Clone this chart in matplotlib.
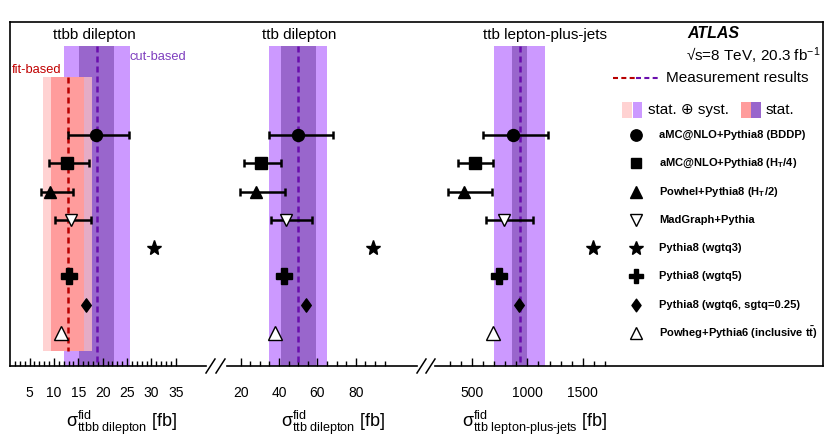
import numpy as np
import matplotlib.pyplot as plt
from matplotlib.lines import Line2D
from matplotlib.patches import Rectangle
from matplotlib.path import Path

plt.rcParams['font.family'] = ['Liberation Sans', 'DejaVu Sans']
plt.rcParams['mathtext.fontset'] = 'custom'
plt.rcParams['mathtext.rm'] = 'Liberation Sans'
plt.rcParams['mathtext.it'] = 'Liberation Sans:italic'
plt.rcParams['mathtext.bf'] = 'Liberation Sans:bold'

# generator predictions, same order in every panel (top to bottom)
generators = ["aMC@NLO+Pythia8 (BDDP)",
              r"aMC@NLO+Pythia8 (H$_{\mathbf{T}}$/4)",
              r"Powhel+Pythia8 (H$_{\mathbf{T}}$/2)",
              "MadGraph+Pythia",
              "Pythia8 (wgtq3)",
              "Pythia8 (wgtq5)",
              "Pythia8 (wgtq6, sgtq=0.25)",
              r"Powheg+Pythia6 (inclusive t$\mathbf{\bar{t}}$)"]
diamond = Path([(0, 1), (0.72, 0), (0, -1), (-0.72, 0), (0, 1)],
               [Path.MOVETO, Path.LINETO, Path.LINETO, Path.LINETO, Path.CLOSEPOLY])
markers = ['o', 's', '^', 'v', '*', 'P', diamond, '^']
msizes = [8.6, 8.2, 8.4, 9.0, 11.0, 11.0, 9.6, 9.6]
filled = [True, True, True, False, True, True, True, False]

# ttbb dilepton [fb]
ttbb_pred = [18.6, 12.6, 9.2, 13.5, 30.6, 13.1, 16.5, 11.5]
ttbb_lo = [12.8, 9.0, 7.4, 10.2]
ttbb_hi = [25.5, 17.2, 13.9, 17.6]
ttbb_cut = (18.8, 3.6, 6.8)   # value, stat, stat+syst
ttbb_fit = (12.8, 3.4, 5.0)

# ttb dilepton [fb]
ttb_dil_pred = [49.7, 30.6, 27.8, 43.6, 88.8, 42.7, 53.9, 37.9]
ttb_dil_lo = [34.7, 21.7, 19.6, 35.8]
ttb_dil_hi = [68.0, 40.8, 43.1, 57.0]
ttb_dil_meas = (50.0, 9.1, 15.0)

# ttb lepton-plus-jets [fb]
ttb_lj_pred = [873, 527, 430, 791, 1590, 743, 924, 692]
ttb_lj_lo = [602, 376, 286, 623]
ttb_lj_hi = [1189, 692, 678, 1054]
ttb_lj_meas = (930, 65, 228)

W, H = 827, 436
fig = plt.figure(figsize=(W / 100, H / 100), dpi=100)


def box(x0, x1, y0=22, y1=366):
    return [x0 / W, 1 - y1 / H, (x1 - x0) / W, (y1 - y0) / H]


def ftext(px, py, s, **kw):
    fig.text(px / W, 1 - py / H, s, **kw)


ROW_TOP, ROW_BOT = -3.994, 8.165
rows = np.arange(len(generators))

c_purple_out, c_purple_in = '#cc99ff', '#9966cc'
c_red_out, c_red_in = '#ffc4c4', '#ff9c9c'
c_purple_line, c_red_line = '#6a0dad', '#b80000'
dash = (0, (2.4, 1.6))

panels = [
    dict(rect=(10, 206), xlim=(1.0, 41.2), pred=ttbb_pred, lo=ttbb_lo, hi=ttbb_hi,
         meas=ttbb_cut, major=[5, 10, 15, 20, 25, 30, 35], minor=np.arange(2, 36, 1),
         title="ttbb dilepton", tx=94.5, lx=121.5,
         xlabel=r"$\mathrm{\sigma}^{\text{fid}}_{\text{ttbb dilepton}}$ [fb]"),
    dict(rect=(227, 417), xlim=(12.83, 111.95), pred=ttb_dil_pred, lo=ttb_dil_lo, hi=ttb_dil_hi,
         meas=ttb_dil_meas, major=[20, 40, 60, 80], minor=np.arange(20, 96, 5),
         title="ttb dilepton", tx=299, lx=333,
         xlabel=r"$\mathrm{\sigma}^{\text{fid}}_{\text{ttb dilepton}}$ [fb]"),
    dict(rect=(435, 823), xlim=(165.3, 3670.3), pred=ttb_lj_pred, lo=ttb_lj_lo, hi=ttb_lj_hi,
         meas=ttb_lj_meas, major=[500, 1000, 1500], minor=np.arange(300, 1701, 100),
         title="ttb lepton-plus-jets", tx=545, lx=535,
         xlabel=r"$\mathrm{\sigma}^{\text{fid}}_{\text{ttb lepton-plus-jets}}$ [fb]"),
]

axes = []
for p in panels:
    ax = fig.add_axes(box(*p['rect']))
    ax.patch.set_visible(False)
    for s in ['top', 'left', 'right']:
        ax.spines[s].set_visible(False)
    ax.spines['bottom'].set_linewidth(1.2)
    ax.set_xlim(*p['xlim'])
    ax.set_ylim(ROW_BOT, ROW_TOP)
    ax.set_yticks([])
    ax.set_xticks(p['major'])
    ax.set_xticks([m for m in p['minor'] if m not in p['major']], minor=True)
    ax.tick_params(axis='x', which='both', direction='in', labelsize=10, pad=14.5, width=1)
    ax.tick_params(axis='x', which='major', length=6)
    ax.tick_params(axis='x', which='minor', length=3.5)

    v, st, tot = p['meas']
    ax.fill_betweenx([-3.146, ROW_BOT], v - tot, v + tot, color=c_purple_out, lw=0, zorder=1)
    ax.fill_betweenx([-3.146, ROW_BOT], v - st, v + st, color=c_purple_in, lw=0, zorder=1.1)
    ax.vlines(v, -3.146, ROW_BOT, colors=c_purple_line, linestyles=dash, lw=1.8, zorder=2)
    axes.append(ax)

    ftext(p['tx'], 35, p['title'], fontsize=11, ha='center', va='center')
    ftext(p['lx'], 423, p['xlabel'], fontsize=13, ha='center', va='center')

# fit-based result only in the ttbb panel
ax1 = axes[0]
v, st, tot = ttbb_fit
ax1.fill_betweenx([-2.05, 7.635], v - tot, v + tot, color=c_red_out, alpha=0.75, lw=0, zorder=1.5)
ax1.fill_betweenx([-2.05, 7.635], v - st, v + st, color=c_red_in, lw=0, zorder=1.6)
ax1.vlines(v, -2.05, 7.635, colors=c_red_line, linestyles=dash, lw=1.8, zorder=2)
ftext(130, 57, "cut-based", fontsize=9.3, color='#7f3fbf', ha='left', va='center')
ftext(12, 70, "fit-based", fontsize=9.3, color='#c00000', ha='left', va='center')

# predictions
for ax, p in zip(axes, panels):
    n = len(p['lo'])
    x = np.array(p['pred'][:n], dtype=float)
    ax.errorbar(x, rows[:n], xerr=[x - np.array(p['lo']), np.array(p['hi']) - x],
                fmt='none', ecolor='k', elinewidth=1.8, capsize=3.2, capthick=1.8, zorder=3)
    for i in rows:
        ax.plot(p['pred'][i], i, marker=markers[i], ms=msizes[i], ls='none',
                mfc='k' if filled[i] else 'white', mec='k', mew=1.0, zorder=4)

# outer frame
frame = fig.add_axes(box(10, 823), zorder=5)
frame.patch.set_visible(False)
frame.set_xticks([])
frame.set_yticks([])
frame.spines['bottom'].set_visible(False)
for s in ['top', 'left', 'right']:
    frame.spines[s].set_linewidth(1.2)

# axis break marks
for x0 in (206, 216, 417, 426):
    fig.add_artist(Line2D([x0 / W, (x0 + 9) / W], [1 - 373 / H, 1 - 359 / H],
                          color='k', lw=1.1, transform=fig.transFigure))

# legend
axl = fig.add_axes(box(600, 823), zorder=6)
axl.set_xlim(0, 1)
axl.set_ylim(ROW_BOT, ROW_TOP)
axl.axis('off')
for i in rows:
    axl.plot(0.161, i, marker=markers[i], ms=msizes[i] * 0.95, ls='none',
             mfc='k' if filled[i] else 'white', mec='k', mew=1.0)
    axl.text(0.265, i, generators[i], fontsize=8, fontweight='bold', ha='left', va='center')

ftext(713, 33, "ATLAS", fontsize=11.5, fontweight='bold', style='italic', ha='center', va='center')
ftext(686, 56, r"√s=8 TeV, 20.3 fb$^{-1}$", fontsize=11, ha='left', va='center')
ftext(666, 78, "Measurement results", fontsize=11, ha='left', va='center')
fig.add_artist(Line2D([613 / W, 635 / W], [1 - 78 / H] * 2, color=c_red_line, lw=1.5,
                      ls=(0, (2.4, 1.6)), transform=fig.transFigure))
fig.add_artist(Line2D([636 / W, 659 / W], [1 - 78 / H] * 2, color=c_purple_line, lw=1.5,
                      ls=(0, (2.4, 1.6)), transform=fig.transFigure))
for x0, c in [(622, '#ffd2d2'), (632.5, c_purple_out), (741, c_red_in), (751, c_purple_in)]:
    fig.add_artist(Rectangle((x0 / W, 1 - 118 / H), 9.5 / W, 16 / H, color=c, lw=0,
                             transform=fig.transFigure))
ftext(648, 110, "stat. ⊕ syst.", fontsize=11, ha='left', va='center')
ftext(766, 110, "stat.", fontsize=11, ha='left', va='center')

fig.savefig("out.png", dpi=100)
